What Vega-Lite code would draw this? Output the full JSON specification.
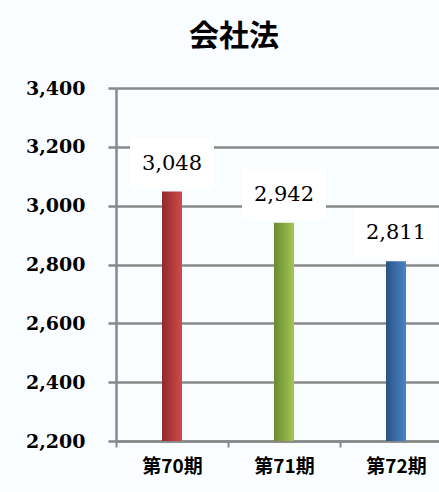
{
  "$schema": "https://vega.github.io/schema/vega-lite/v6.json",
  "autosize": "none",
  "width": 336,
  "height": 353,
  "padding": {"left": 116, "top": 88, "right": 0, "bottom": 51},
  "background": "#fafdff",
  "title": {
    "text": "会社法",
    "font": "Noto Sans CJK JP",
    "fontSize": 30,
    "fontWeight": "bold",
    "color": "#000000",
    "anchor": "middle",
    "dx": -50,
    "offset": 27
  },
  "config": {
    "view": {"stroke": null}
  },
  "data": {
    "values": [
      {"period": "第70期", "value": 3048, "label": "3,048"},
      {"period": "第71期", "value": 2942, "label": "2,942"},
      {"period": "第72期", "value": 2811, "label": "2,811"}
    ]
  },
  "encoding": {
    "x": {
      "field": "period",
      "type": "nominal",
      "sort": null,
      "scale": {"paddingInner": 0, "paddingOuter": 0},
      "axis": {
        "title": null,
        "labelAngle": 0,
        "labelFont": "Noto Sans CJK JP",
        "labelFontWeight": "bold",
        "labelFontSize": 19,
        "labelColor": "#000000",
        "labelPadding": 10,
        "domainColor": "#888888",
        "domainWidth": 2.5,
        "tickColor": "#888888",
        "tickWidth": 2,
        "tickSize": 6,
        "tickBand": "extent",
        "grid": false
      }
    },
    "y": {
      "field": "value",
      "type": "quantitative",
      "scale": {"domain": [2200, 3400], "nice": false, "zero": false},
      "axis": {
        "title": null,
        "values": [2200, 2400, 2600, 2800, 3000, 3200, 3400],
        "format": ",.0f",
        "labelFont": "DejaVu Serif",
        "labelFontWeight": "bold",
        "labelFontSize": 19,
        "labelColor": "#000000",
        "labelPadding": 23,
        "domainColor": "#888888",
        "domainWidth": 2.5,
        "tickColor": "#888888",
        "tickWidth": 2.5,
        "tickSize": 8,
        "grid": true,
        "gridColor": "#888888",
        "gridWidth": 2.5,
        "gridOpacity": 1
      }
    }
  },
  "layer": [
    {
      "transform": [{"filter": "datum.period === '第70期'"}],
      "mark": {
        "type": "bar",
        "width": 20,
        "color": {
          "gradient": "linear", "x1": 0, "y1": 0, "x2": 1, "y2": 0,
          "stops": [{"offset": 0, "color": "#8f2b2b"}, {"offset": 1, "color": "#cf4b49"}]
        }
      },
      "encoding": {"y2": {"datum": 2200}}
    },
    {
      "transform": [{"filter": "datum.period === '第71期'"}],
      "mark": {
        "type": "bar",
        "width": 20,
        "color": {
          "gradient": "linear", "x1": 0, "y1": 0, "x2": 1, "y2": 0,
          "stops": [{"offset": 0, "color": "#6a8a30"}, {"offset": 1, "color": "#a5c655"}]
        }
      },
      "encoding": {"y2": {"datum": 2200}}
    },
    {
      "transform": [{"filter": "datum.period === '第72期'"}],
      "mark": {
        "type": "bar",
        "width": 20,
        "color": {
          "gradient": "linear", "x1": 0, "y1": 0, "x2": 1, "y2": 0,
          "stops": [{"offset": 0, "color": "#2c5284"}, {"offset": 1, "color": "#4a84c8"}]
        }
      },
      "encoding": {"y2": {"datum": 2200}}
    },
    {
      "mark": {
        "type": "point",
        "shape": "M-1,-0.6L1,-0.6L1,0.6L-1,0.6Z",
        "size": 7056,
        "filled": true,
        "color": "#ffffff",
        "opacity": 1,
        "strokeWidth": 0,
        "yOffset": -28
      }
    },
    {
      "mark": {
        "type": "text",
        "font": "DejaVu Serif",
        "fontSize": 21,
        "color": "#000000",
        "baseline": "middle",
        "dy": -28
      },
      "encoding": {"text": {"field": "label"}}
    }
  ]
}
